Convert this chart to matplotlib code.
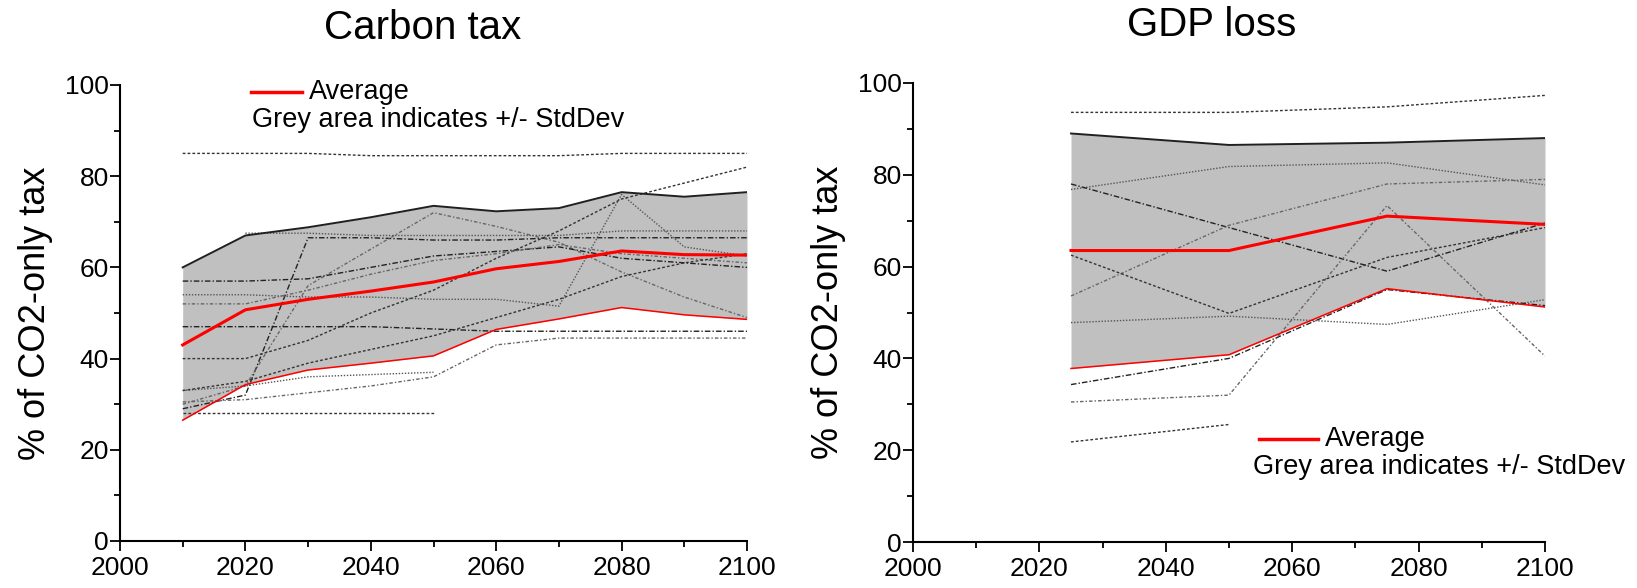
import matplotlib
matplotlib.use("Agg")
import matplotlib.pyplot as plt
from matplotlib.ticker import MultipleLocator
import numpy as np

#---------------------------------------#
# DATA - carbon tax panel
#---------------------------------------#
nan = np.nan
CT_YEARS = [2010, 2020, 2030, 2040, 2050, 2060, 2070, 2080, 2090, 2100]
CT_UPPER = [60, 67, 68.8, 71, 73.5, 72.3, 73, 76.5, 75.5, 76.5]
CT_AVG = [43, 50.7, 53, 54.8, 56.8, 59.7, 61.3, 63.6, 62.8, 62.7]
CT_LOWER = [26.5, 34.3, 37.5, 39, 40.6, 46.4, 48.7, 51.2, 49.6, 48.6]
# the individual model runs
CT_MODELS = [
    [85, 85, 85, 84.5, 84.5, 84.5, 84.5, 85, 85, 85],
    [nan, 67.5, 67.5, 67, 67, 67, 67, 68, 68, 68],
    [29, 32, 66.5, 66.5, 66, 66, 66.5, 66.5, 66.5, 66.5],
    [30, 34, 56, 64, 72, 69, 65.5, 59, 53.5, 49],
    [40, 40, 44, 50, 55, 62, 68, 75, 78.5, 82],
    [54, 54, 53.5, 53.5, 53, 53, 51.5, 76, 64.5, 62.5],
    [47, 47, 47, 47, 46.5, 46, 46, 46, 46, 46],
    [30.5, 31, 32.5, 34, 36, 43, 44.5, 44.5, 44.5, 44.5],
    [28, 28, 28, 28, 28, nan, nan, nan, nan, nan],
    [33, 34, 36, 36.5, 37, nan, nan, nan, nan, nan],
    [57, 57, 57.5, 60, 62.5, 63.5, 64.5, 62, 61, 60],
    [52, 52, 55, 58.5, 61.5, 63, 65, 63, 62, 61],
    [33, 35, 39, 42, 45, 49, 53, 58, 61, 63],
]

#---------------------------------------#
# DATA - GDP loss panel
#---------------------------------------#
GDP_YEARS = [2025, 2050, 2075, 2100]
GDP_UPPER = [89, 86.5, 87, 88]
GDP_AVG = [63.5, 63.5, 71, 69.2]
GDP_LOWER = [37.8, 40.8, 55.2, 51.2]
GDP_MODELS = [
    [93.6, 93.6, 94.8, 97.3],
    [76.8, 81.8, 82.6, 77.8],
    [78, 68.5, 59, 69.5],
    [53.6, 69, 78, 79],
    [62.5, 49.8, 62, 68.5],
    [47.8, 49.2, 47.4, 52.8],
    [34.3, 40, 55, 51.5],
    [30.5, 32, 73.3, 40.5],
    [21.8, 25.6, nan, nan],
]

#---------------------------------------#
# STYLE OPTIONS
#---------------------------------------#
FONT = "Liberation Sans"
MODEL_STYLES = [
    ("#333333", (0, (2, 1.5))),
    ("#555555", (0, (1, 1.2))),
    ("#222222", (0, (4, 1.5, 1, 1.5))),
    ("#666666", (0, (2.5, 1.5, 1, 1.5))),
]
FILL_COLOR = "#c0c0c0"
W, H = 1637, 588
#---------------------------------------#


"""
draw one panel: grey std band, model lines, average and band edges
"""
def draw_panel(ax, years, upper, avg, lower, models):
    ax.fill_between(years, lower, upper, color=FILL_COLOR, lw=0, zorder=1)
    for i, m in enumerate(models):
        col, ls = MODEL_STYLES[i % len(MODEL_STYLES)]
        ax.plot(years, m, color=col, ls=ls, lw=1.0, zorder=2)
    ax.plot(years, upper, color="#202020", lw=1.4, zorder=3)
    ax.plot(years, lower, color="#ff0000", lw=1.1, zorder=3)
    ax.plot(years, avg, color="#ff0000", lw=2.2, zorder=4)

    ax.set_xlim(2000, 2100)
    ax.set_ylim(0, 100)
    ax.xaxis.set_major_locator(MultipleLocator(20))
    ax.xaxis.set_minor_locator(MultipleLocator(10))
    ax.yaxis.set_major_locator(MultipleLocator(20))
    ax.yaxis.set_minor_locator(MultipleLocator(10))
    for s in ["top", "right"]:
        ax.spines[s].set_visible(False)
    for s in ["left", "bottom"]:
        ax.spines[s].set_linewidth(1.5)
    ax.tick_params(which="major", direction="out", length=7, width=1.3,
                   labelsize=19)
    ax.tick_params(which="minor", direction="out", length=4, width=1.3)
    ax.tick_params(axis="x", pad=4)
    ax.tick_params(axis="y", pad=1)
    ax.set_ylabel("% of CO2-only tax", fontsize=26, labelpad=9)


"""
small hand placed legend: red line + 'Average' and a second text row
"""
def draw_legend(fig, x0, x1, y_line, x_grey, y_grey):
    fig.add_artist(plt.Line2D([x0 / W, x1 / W], [1 - y_line / H, 1 - y_line / H],
                              color="#ff0000", lw=2.5))
    fig.text((x1 + 7) / W, 1 - y_line / H, "Average", fontsize=19.5,
             va="center", ha="left")
    fig.text(x_grey / W, 1 - y_grey / H, "Grey area indicates +/- StdDev",
             fontsize=19.5, va="center", ha="left")


def main() -> None:
    plt.rcParams["font.family"] = [FONT, "DejaVu Sans"]
    fig = plt.figure(figsize=(W / 100, H / 100), dpi=100)

    ax1 = fig.add_axes([120 / W, 1 - 541 / H, 627 / W, 456 / H])
    draw_panel(ax1, CT_YEARS, CT_UPPER, CT_AVG, CT_LOWER, CT_MODELS)
    ax2 = fig.add_axes([913 / W, 1 - 542 / H, 632 / W, 459 / H])
    draw_panel(ax2, GDP_YEARS, GDP_UPPER, GDP_AVG, GDP_LOWER, GDP_MODELS)

    # titles
    fig.text(423 / W, 1 - 28 / H, "Carbon tax", fontsize=29, ha="center", va="center")
    fig.text(1212 / W, 1 - 25 / H, "GDP loss", fontsize=29, ha="center", va="center")

    draw_legend(fig, 251, 302, 92, 252, 120)
    draw_legend(fig, 1259, 1318, 439, 1253, 467)

    fig.savefig("out.png", dpi=100)


#---------------------------------------#
main()
#---------------------------------------#
